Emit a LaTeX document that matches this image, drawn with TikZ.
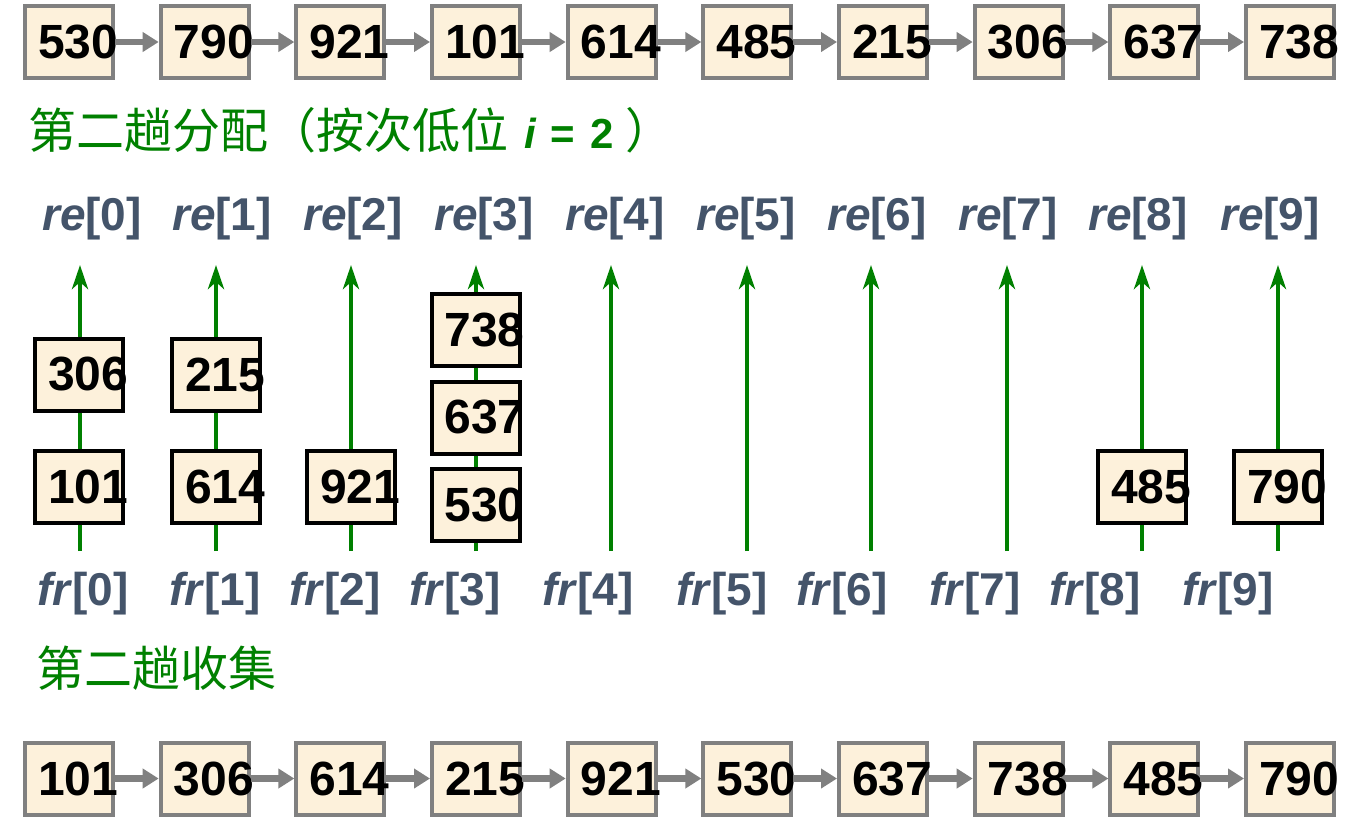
\documentclass[tikz,border=0pt]{standalone}
\usepackage{fontspec}
\setmainfont{Liberation Sans}
\newfontfamily\cjk{Noto Sans CJK SC}
\usepackage{xcolor}
\usetikzlibrary{shapes,arrows.meta,positioning}
\definecolor{abu}{RGB}{128,128,128}
\definecolor{krem}{RGB}{253,241,219}
\definecolor{hijau}{RGB}{0,128,0}
\definecolor{biru}{RGB}{68,84,106}
\tikzstyle{kotak} = [rectangle, draw=abu, line width=4pt, fill=krem, minimum width=88pt, minimum height=72pt, inner sep=0pt, font=\fontsize{48}{48}\selectfont\bfseries]
\tikzstyle{isi} = [kotak, draw=black]
\tikzstyle{line} = [draw=abu, line width=6.5pt, -{Triangle[length=16pt,width=19pt]}]
\tikzstyle{ember} = [draw=hijau, line width=4.5pt, -{Stealth[length=24pt,width=16pt,inset=7pt]}]
\tikzstyle{indeks} = [text=biru, anchor=base, inner sep=0pt, font=\fontsize{46}{46}\selectfont\bfseries]
\tikzstyle{judul} = [text=hijau, anchor=west, inner sep=0pt, font=\cjk\fontsize{48}{48}\selectfont]
\newcommand{\val}[1]{\hspace*{13pt}\makebox[75pt][l]{#1}}

\begin{document}
\begin{tikzpicture}[x=1pt, y=-1pt, node distance=135.67pt]
\useasboundingbox (0,0) rectangle (1356,823);

% urutan awal
\node [kotak] (lama0) at (69,42) {\val{530}};
\node [kotak,right of=lama0] (lama1) {\val{790}};
\node [kotak,right of=lama1] (lama2) {\val{921}};
\node [kotak,right of=lama2] (lama3) {\val{101}};
\node [kotak,right of=lama3] (lama4) {\val{614}};
\node [kotak,right of=lama4] (lama5) {\val{485}};
\node [kotak,right of=lama5] (lama6) {\val{215}};
\node [kotak,right of=lama6] (lama7) {\val{306}};
\node [kotak,right of=lama7] (lama8) {\val{637}};
\node [kotak,right of=lama8] (lama9) {\val{738}};

\node [judul] (judul1) at (28,130) {第二趟分配（按次低位\hspace{16pt}{\rmfamily\fontsize{42}{42}\selectfont\bfseries\itshape i}\hspace{15pt}{\rmfamily\fontsize{42}{42}\selectfont\bfseries =\hspace{15pt}2}\hspace{12pt}）};

% re
\node [indeks] (re0) at (92,230) {\textit{re}[0]};
\node [indeks] (re1) at (222,230) {\textit{re}[1]};
\node [indeks] (re2) at (353,230) {\textit{re}[2]};
\node [indeks] (re3) at (484,230) {\textit{re}[3]};
\node [indeks] (re4) at (615,230) {\textit{re}[4]};
\node [indeks] (re5) at (746,230) {\textit{re}[5]};
\node [indeks] (re6) at (877,230) {\textit{re}[6]};
\node [indeks] (re7) at (1008,230) {\textit{re}[7]};
\node [indeks] (re8) at (1138,230) {\textit{re}[8]};
\node [indeks] (re9) at (1270,230) {\textit{re}[9]};

% fr
\node [indeks] (fr0) at (83,605) {\textit{fr}[0]};
\node [indeks] (fr1) at (215,605) {\textit{fr}[1]};
\node [indeks] (fr2) at (335,605) {\textit{fr}[2]};
\node [indeks] (fr3) at (455,605) {\textit{fr}[3]};
\node [indeks] (fr4) at (588,605) {\textit{fr}[4]};
\node [indeks] (fr5) at (722,605) {\textit{fr}[5]};
\node [indeks] (fr6) at (842,605) {\textit{fr}[6]};
\node [indeks] (fr7) at (975,605) {\textit{fr}[7]};
\node [indeks] (fr8) at (1095,605) {\textit{fr}[8]};
\node [indeks] (fr9) at (1228,605) {\textit{fr}[9]};

% antrian
\coordinate (depan0) at (80,551);   \coordinate (ekor0) at (80,265);
\coordinate (depan1) at (216,551);  \coordinate (ekor1) at (216,265);
\coordinate (depan2) at (351,551);  \coordinate (ekor2) at (351,265);
\coordinate (depan3) at (476,551);  \coordinate (ekor3) at (476,265);
\coordinate (depan4) at (611,551);  \coordinate (ekor4) at (611,265);
\coordinate (depan5) at (747,551);  \coordinate (ekor5) at (747,265);
\coordinate (depan6) at (871,551);  \coordinate (ekor6) at (871,265);
\coordinate (depan7) at (1007,551); \coordinate (ekor7) at (1007,265);
\coordinate (depan8) at (1142,551); \coordinate (ekor8) at (1142,265);
\coordinate (depan9) at (1278,551); \coordinate (ekor9) at (1278,265);

\path[ember](depan0) -- (ekor0);
\path[ember](depan1) -- (ekor1);
\path[ember](depan2) -- (ekor2);
\path[ember](depan3) -- (ekor3);
\path[ember](depan4) -- (ekor4);
\path[ember](depan5) -- (ekor5);
\path[ember](depan6) -- (ekor6);
\path[ember](depan7) -- (ekor7);
\path[ember](depan8) -- (ekor8);
\path[ember](depan9) -- (ekor9);

\node [isi] (isi0a) at (79,486.5) {\val{101}};
\node [isi,above of=isi0a,node distance=112pt] (isi0b) {\val{306}};
\node [isi] (isi1a) at (216,486.5) {\val{614}};
\node [isi,above of=isi1a,node distance=112pt] (isi1b) {\val{215}};
\node [isi] (isi2a) at (351,486.5) {\val{921}};
\node [isi] (isi3a) at (475.5,505) {\val{530}};
\node [isi,above of=isi3a,node distance=87.5pt] (isi3b) {\val{637}};
\node [isi,above of=isi3b,node distance=87.5pt] (isi3c) {\val{738}};
\node [isi] (isi8a) at (1142,486.5) {\val{485}};
\node [isi] (isi9a) at (1278,486.5) {\val{790}};

\node [judul] (judul2) at (36,668) {第二趟收集};

% urutan baru
\node [kotak] (baru0) at (69,778.5) {\val{101}};
\node [kotak,right of=baru0] (baru1) {\val{306}};
\node [kotak,right of=baru1] (baru2) {\val{614}};
\node [kotak,right of=baru2] (baru3) {\val{215}};
\node [kotak,right of=baru3] (baru4) {\val{921}};
\node [kotak,right of=baru4] (baru5) {\val{530}};
\node [kotak,right of=baru5] (baru6) {\val{637}};
\node [kotak,right of=baru6] (baru7) {\val{738}};
\node [kotak,right of=baru7] (baru8) {\val{485}};
\node [kotak,right of=baru8] (baru9) {\val{790}};

\path[line](lama0) -- (lama1);
\path[line](lama1) -- (lama2);
\path[line](lama2) -- (lama3);
\path[line](lama3) -- (lama4);
\path[line](lama4) -- (lama5);
\path[line](lama5) -- (lama6);
\path[line](lama6) -- (lama7);
\path[line](lama7) -- (lama8);
\path[line](lama8) -- (lama9);

\path[line](baru0) -- (baru1);
\path[line](baru1) -- (baru2);
\path[line](baru2) -- (baru3);
\path[line](baru3) -- (baru4);
\path[line](baru4) -- (baru5);
\path[line](baru5) -- (baru6);
\path[line](baru6) -- (baru7);
\path[line](baru7) -- (baru8);
\path[line](baru8) -- (baru9);
\end{tikzpicture}
\end{document}
